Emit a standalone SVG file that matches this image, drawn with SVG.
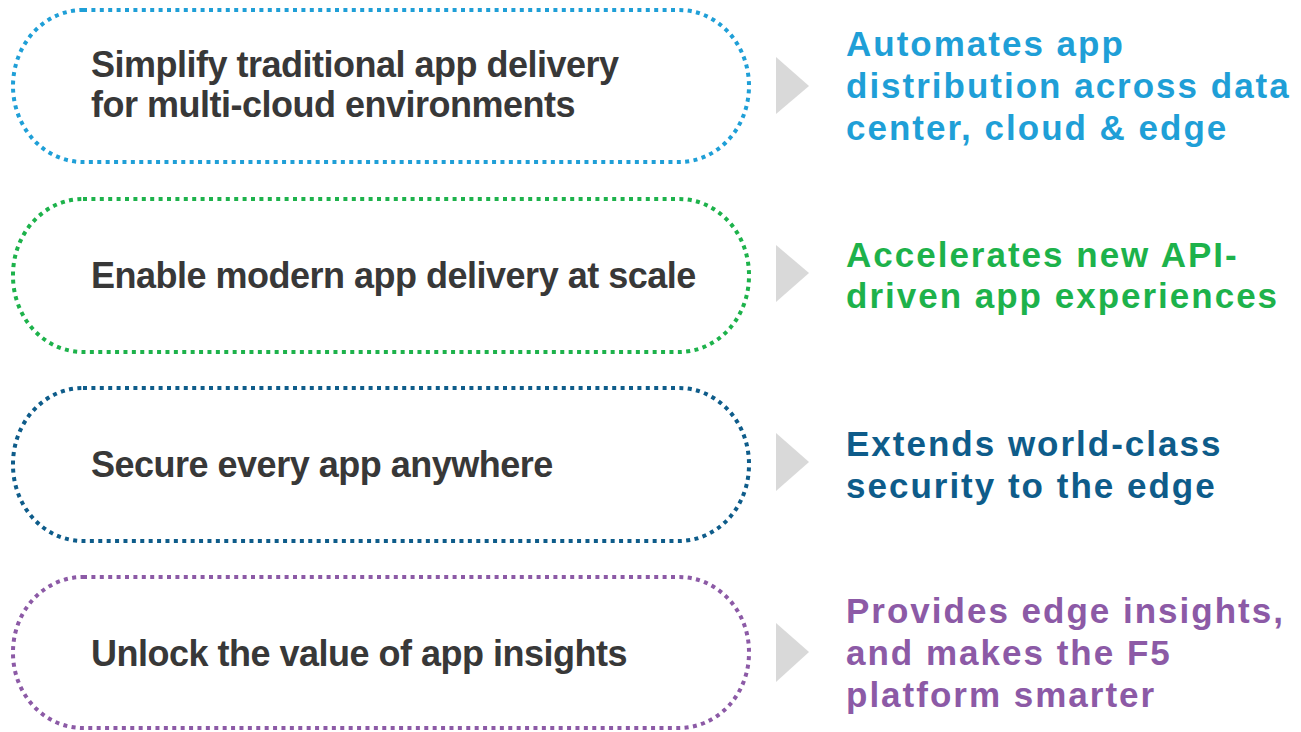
<svg xmlns="http://www.w3.org/2000/svg" width="1301" height="732" viewBox="0 0 1301 732">
<style>
.box{fill:none;stroke-width:4;stroke-dasharray:4 4.4}
.lt{font-family:"Liberation Sans",Arial,sans-serif;font-weight:bold;font-size:36px;fill:#383838;letter-spacing:-0.5px}
.rt{font-family:"Liberation Sans",Arial,sans-serif;font-weight:bold;font-size:35px;letter-spacing:2px}
.arr{fill:#d9d9d9}
</style>
<rect width="1301" height="732" fill="#ffffff"/>
<g id="node1">
<rect class="box" x="13" y="10" width="736" height="152" rx="70" ry="76" stroke="#1f9fd7"/>
<text class="lt" x="91" y="77">Simplify traditional app delivery</text>
<text class="lt" x="91" y="117">for multi-cloud environments</text>
</g>
<g id="node2">
<rect class="box" x="13" y="199" width="736" height="153" rx="70" ry="76" stroke="#1db24b"/>
<text class="lt" x="91" y="288">Enable modern app delivery at scale</text>
</g>
<g id="node3">
<rect class="box" x="13" y="388" width="736" height="153" rx="70" ry="76" stroke="#0e5c8a"/>
<text class="lt" x="91" y="477">Secure every app anywhere</text>
</g>
<g id="node4">
<rect class="box" x="13" y="577" width="736" height="151" rx="70" ry="75" stroke="#8c5aa6"/>
<text class="lt" x="91" y="666">Unlock the value of app insights</text>
</g>
<g id="result1">
<text class="rt" fill="#1f9fd7"><tspan x="846" y="56">Automates app</tspan><tspan x="846" y="98">distribution across data</tspan><tspan x="846" y="140">center, cloud &amp; edge</tspan></text>
</g>
<g id="result2">
<text class="rt" fill="#1db24b"><tspan x="846" y="267">Accelerates new API-</tspan><tspan x="846" y="308">driven app experiences</tspan></text>
</g>
<g id="result3">
<text class="rt" fill="#0e5c8a"><tspan x="846" y="456">Extends world-class</tspan><tspan x="846" y="498">security to the edge</tspan></text>
</g>
<g id="result4">
<text class="rt" fill="#8c5aa6"><tspan x="846" y="623">Provides edge insights,</tspan><tspan x="846" y="665">and makes the F5</tspan><tspan x="846" y="707">platform smarter</tspan></text>
</g>
<g id="connectors">
<polygon class="arr" points="776,57 809,86 776,114"/>
<polygon class="arr" points="776,245 809,273 776,302"/>
<polygon class="arr" points="776,433 809,462 776,491"/>
<polygon class="arr" points="776,623 809,652 776,682"/>
</g>
</svg>
